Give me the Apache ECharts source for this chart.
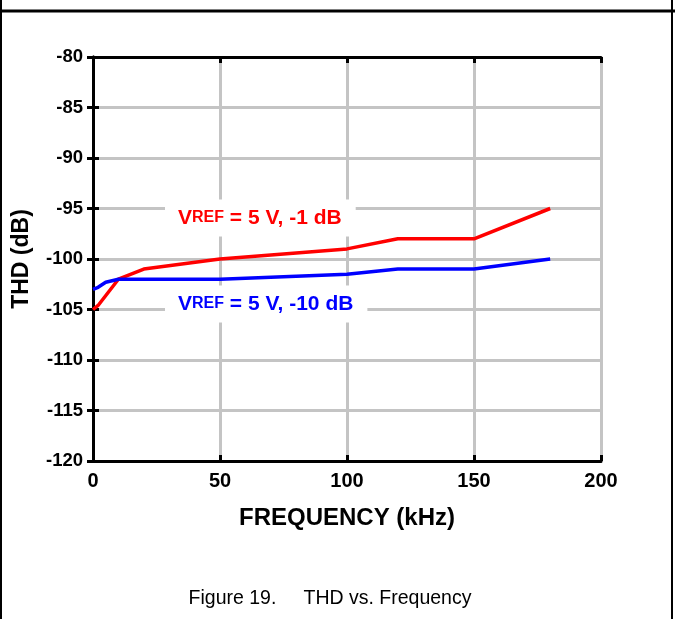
<!DOCTYPE html>
<html><head><meta charset="utf-8">
<script src="https://cdn.jsdelivr.net/npm/echarts@6/dist/echarts.min.js"></script>
<style>html,body{margin:0;padding:0;background:#fff}#c{width:675px;height:619px}</style>
</head><body><div id="c"></div>
<script>
const freqRed = [0, 2, 10, 20, 50, 100, 120, 150, 180];
const thdRed  = [-105, -104.6, -102, -101, -100, -99, -98, -98, -95];
const freqBlue = [0, 2, 5, 10, 50, 100, 120, 150, 180];
const thdBlue  = [-103, -102.8, -102.3, -102, -102, -101.5, -101, -101, -100];
const xTicks = [0, 50, 100, 150, 200];
const yTicks = [-120, -115, -110, -105, -100, -95, -90, -85, -80];

const F = 'Liberation Sans, Arial, sans-serif';
const chart = echarts.init(document.getElementById('c'), null, {renderer: 'canvas'});
const pairs = (xs, ys) => xs.map((x, i) => [x, ys[i]]);
const tickStyle = {show: true, inside: true, length: 6, lineStyle: {color: '#000', width: 3}};
const lineAx = {show: true, lineStyle: {color: '#000', width: 3}};
chart.setOption({
  animation: false,
  grid: {left: 93, right: 74, top: 57, bottom: 158},
  xAxis: [{
    type: 'value', min: xTicks[0], max: xTicks[xTicks.length-1], interval: 50,
    axisLine: lineAx, axisTick: tickStyle,
    splitLine: {show: true, lineStyle: {color: '#c4c4c4', width: 3}},
    axisLabel: {color: '#000', fontFamily: F, fontWeight: 'bold', fontSize: 20, margin: 10},
    name: 'FREQUENCY (kHz)', nameLocation: 'middle', nameGap: 45,
    nameTextStyle: {color: '#000', fontFamily: F, fontWeight: 'bold', fontSize: 24}
  }, {
    type: 'value', position: 'top', min: 0, max: 200, interval: 50,
    axisLine: lineAx, axisTick: tickStyle, axisLabel: {show: false}, splitLine: {show: false}
  }],
  yAxis: [{
    type: 'value', min: yTicks[0], max: yTicks[yTicks.length-1], interval: 5,
    axisLine: lineAx, axisTick: tickStyle,
    splitLine: {show: true, lineStyle: {color: '#c4c4c4', width: 3}},
    axisLabel: {color: '#000', fontFamily: F, fontWeight: 'bold', fontSize: 18.5, margin: 10},
    name: 'THD (dB)', nameLocation: 'middle', nameGap: 60,
    nameTextStyle: {color: '#000', fontFamily: F, fontWeight: 'bold', fontSize: 23}
  }, {
    type: 'value', position: 'right', min: -120, max: -80, interval: 5,
    axisLine: lineAx, axisTick: tickStyle, axisLabel: {show: false}, splitLine: {show: false}
  }],
  series: [{
    type: 'line', data: pairs(freqRed, thdRed), showSymbol: false,
    lineStyle: {color: '#ff0000', width: 3.5}, z: 3
  }, {
    type: 'line', data: pairs(freqBlue, thdBlue), showSymbol: false,
    lineStyle: {color: '#0000ff', width: 3.5}, z: 3
  }],
  graphic: [
    {type: 'line', shape: {x1: 1, y1: 0, x2: 1, y2: 619}, style: {stroke: '#000', lineWidth: 2}},
    {type: 'line', shape: {x1: 672, y1: 0, x2: 672, y2: 619}, style: {stroke: '#000', lineWidth: 2}},
    {type: 'line', shape: {x1: 0, y1: 11, x2: 675, y2: 11}, style: {stroke: '#000', lineWidth: 3}},
    {type: 'text', x: 165, y: 218, z: 10, style: {
      text: '{v|V}{s|REF}{v| = 5 V, -1 dB}', backgroundColor: '#fff', padding: [8, 14, 8, 13],
      verticalAlign: 'middle',
      rich: {v: {fill: '#ff0000', fontFamily: F, fontWeight: 'bold', fontSize: 21},
             s: {fill: '#ff0000', fontFamily: F, fontWeight: 'bold', fontSize: 16}}
    }},
    {type: 'text', x: 165, y: 304, z: 10, style: {
      text: '{v|V}{s|REF}{v| = 5 V, -10 dB}', backgroundColor: '#fff', padding: [8, 14, 8, 13],
      verticalAlign: 'middle',
      rich: {v: {fill: '#0000ff', fontFamily: F, fontWeight: 'bold', fontSize: 21},
             s: {fill: '#0000ff', fontFamily: F, fontWeight: 'bold', fontSize: 16}}
    }},
    {type: 'text', x: 330, y: 599, style: {
      text: 'Figure 19.     THD vs. Frequency', fill: '#000', fontFamily: F, fontSize: 19.5,
      align: 'center', verticalAlign: 'middle'
    }}
  ]
});
</script></body></html>
